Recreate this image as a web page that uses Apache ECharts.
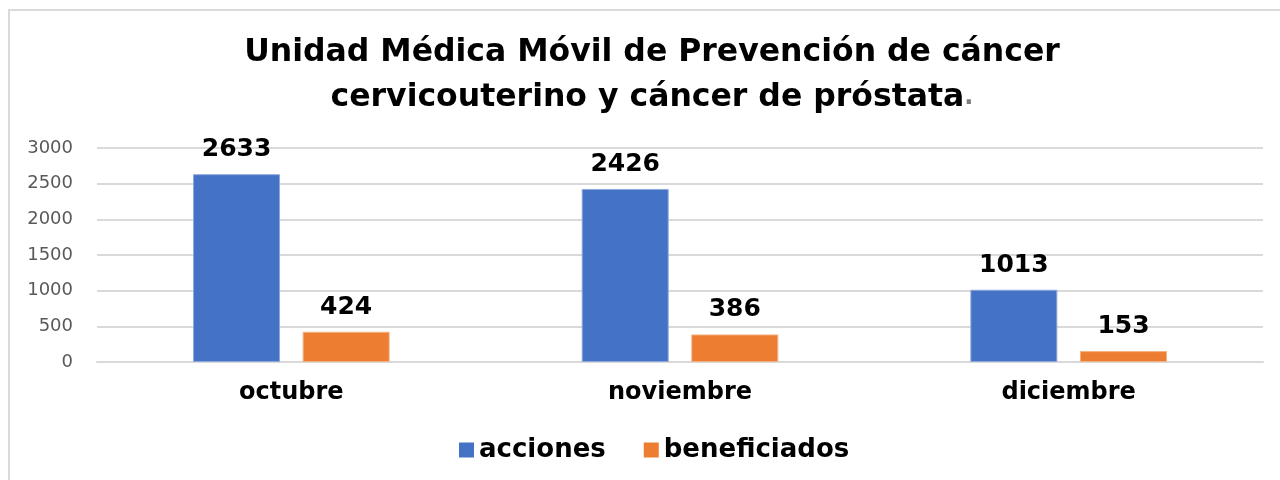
<!DOCTYPE html>
<html>
<head>
<meta charset="utf-8">
<script src="https://cdn.jsdelivr.net/npm/echarts@6/dist/echarts.min.js"></script>
<style>
  html, body { margin: 0; padding: 0; background: #fff; }
  #chart { width: 1280px; height: 480px; }
</style>
</head>
<body>
<div id="chart"></div>
<script>
var meses = ['octubre', 'noviembre', 'diciembre'];
var acciones = [2633, 2426, 1013];
var beneficiados = [424, 386, 153];
var yTicks = [0, 500, 1000, 1500, 2000, 2500, 3000];

var fuente = '"DejaVu Sans", Verdana, sans-serif';
var chart = echarts.init(document.getElementById('chart'));

function etiqueta() {
    return { show: true, position: 'top', distance: 12, color: '#000', fontFamily: fuente, fontWeight: 'bold', fontSize: 25 };
}

chart.setOption({
    animation: false,
    textStyle: { fontFamily: fuente },
    graphic: [{
        type: 'rect', z: -1, silent: true,
        shape: { x: 9, y: 10, width: 1300, height: 500 },
        style: { fill: 'none', stroke: '#d9d9d9', lineWidth: 2 }
    }],
    title: {
        left: 647, top: 25, textAlign: 'center',
        text: 'Unidad Médica Móvil de Prevención de cáncer\ncervicouterino y cáncer de próstata{p|.}',
        textStyle: {
            fontFamily: fuente, fontWeight: 'bold', fontSize: 31.5, lineHeight: 45, color: '#000',
            rich: { p: { fontFamily: fuente, fontWeight: 'bold', fontSize: 24, lineHeight: 45, color: '#7f7f7f' } }
        }
    },
    legend: {
        bottom: 12, left: 454,
        itemWidth: 15, itemHeight: 15, itemGap: 38,
        icon: 'rect',
        itemStyle: { borderWidth: 0 },
        textStyle: { fontFamily: fuente, fontWeight: 'bold', fontSize: 26, color: '#000' },
        data: ['acciones', 'beneficiados']
    },
    grid: { left: 97, right: 17, top: 148, bottom: 118, containLabel: false },
    xAxis: {
        type: 'category',
        data: meses,
        axisTick: { show: false },
        axisLine: { lineStyle: { color: '#d9d9d9', width: 2 } },
        axisLabel: { color: '#000', fontWeight: 'bold', fontSize: 24, margin: 19 }
    },
    yAxis: {
        type: 'value',
        min: yTicks[0], max: yTicks[yTicks.length - 1], interval: 500,
        axisLine: { show: false }, axisTick: { show: false },
        splitLine: { lineStyle: { color: '#d9d9d9', width: 2 } },
        axisLabel: { color: '#595959', fontSize: 18, margin: 24, formatter: function (v) { return String(v); } }
    },
    series: [{
        name: 'acciones', type: 'bar', data: acciones,
        barWidth: 87, barGap: '26%',
        itemStyle: { color: '#4472c4', borderColor: '#8faadc', borderWidth: 1 },
        label: etiqueta()
    }, {
        name: 'beneficiados', type: 'bar', data: beneficiados,
        barWidth: 87,
        itemStyle: { color: '#ed7d31', borderColor: '#f4b183', borderWidth: 1 },
        label: etiqueta()
    }]
});
</script>
</body>
</html>
